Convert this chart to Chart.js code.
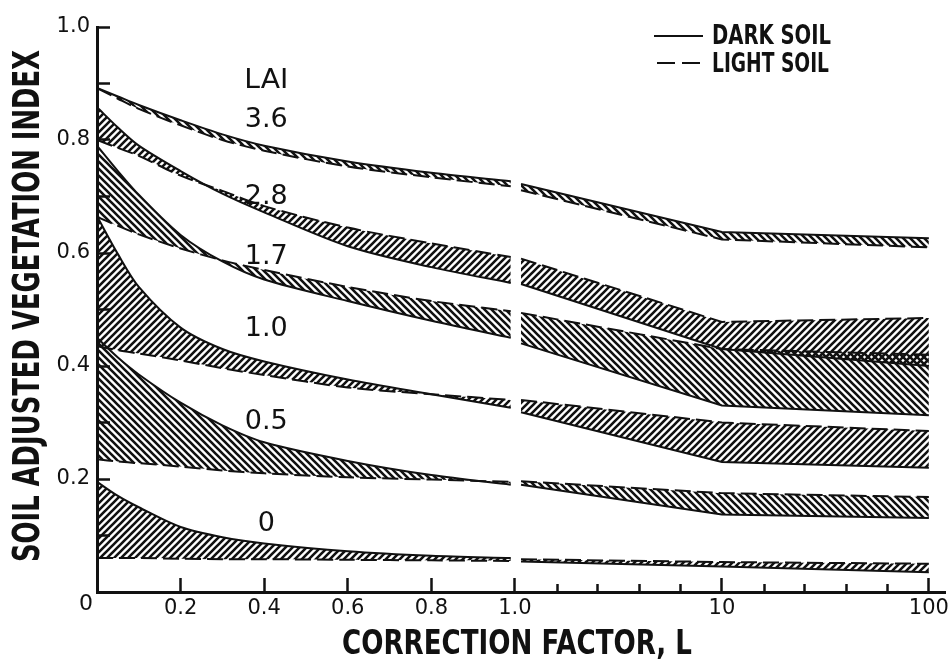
<!DOCTYPE html>
<html>
<head>
<meta charset="utf-8">
<script src="https://cdn.jsdelivr.net/npm/chart.js@4.4.0/dist/chart.umd.min.js"></script>
<style>
    html, body { margin: 0; padding: 0; background: #fff; }
    #wrap { width: 949px; height: 661px; }
</style>
</head>
<body>
<div id="wrap"><canvas id="savi"></canvas></div>
<script>
/* =========================================================
   1. DATA
========================================================= */

// correction factor L at which the curves were read (break between 0.99 and 1.07)
const L_POINTS = [0, 0.05, 0.1, 0.2, 0.3, 0.4, 0.6, 0.8, 0.99, 1.07, 10, 100];
const BREAK_AT = 9;

const LAI_NAMES = ['3.6', '2.8', '1.7', '1.0', '0.5', '0'];

const dark36  = [0.892, 0.877, 0.862, 0.835, 0.810, 0.790, 0.762, 0.742, 0.727, 0.722, 0.637, 0.626];
const light36 = [0.892, 0.873, 0.855, 0.826, 0.800, 0.781, 0.753, 0.734, 0.718, 0.711, 0.624, 0.610];
const dark28  = [0.858, 0.822, 0.790, 0.745, 0.705, 0.672, 0.612, 0.575, 0.547, 0.545, 0.430, 0.400];
const light28 = [0.800, 0.786, 0.772, 0.737, 0.710, 0.683, 0.645, 0.617, 0.593, 0.590, 0.478, 0.485];
const dark17  = [0.790, 0.745, 0.703, 0.632, 0.585, 0.553, 0.515, 0.480, 0.450, 0.440, 0.330, 0.313];
const light17 = [0.664, 0.648, 0.633, 0.608, 0.587, 0.570, 0.540, 0.515, 0.497, 0.494, 0.430, 0.420];
const dark10  = [0.665, 0.598, 0.540, 0.468, 0.430, 0.408, 0.376, 0.350, 0.326, 0.318, 0.230, 0.220];
const light10 = [0.435, 0.428, 0.422, 0.410, 0.396, 0.384, 0.362, 0.350, 0.340, 0.340, 0.300, 0.285];
const dark05  = [0.450, 0.415, 0.385, 0.335, 0.295, 0.265, 0.232, 0.207, 0.190, 0.190, 0.137, 0.131];
const light05 = [0.235, 0.231, 0.228, 0.222, 0.215, 0.210, 0.203, 0.199, 0.195, 0.196, 0.175, 0.168];
const dark00  = [0.195, 0.170, 0.150, 0.115, 0.097, 0.086, 0.072, 0.064, 0.060, 0.054, 0.045, 0.035];
const light00 = [0.060, 0.060, 0.060, 0.059, 0.058, 0.058, 0.057, 0.056, 0.055, 0.058, 0.053, 0.050];

const DARK = [dark36, dark28, dark17, dark10, dark05, dark00];
const LIGHT = [light36, light28, light17, light10, light05, light00];
const HATCH_DIR = ['\\', '/', '\\', '/', '\\', '/'];

// labels written on the plot
const LAI_LABEL_L = 0.405;
const LAI_HEAD_Y = 0.905;
const LAI_LABEL_Y = [0.835, 0.699, 0.593, 0.465, 0.301, 0.120];

// axes
const X_MAJOR = [0.2, 0.4, 0.6, 0.8, 1, 10, 100];
const X_MAJOR_LABELS = ['0.2', '0.4', '0.6', '0.8', '1.0', '10', '100'];
const X_MINOR = [1.6, 2.5, 4, 6.3, 16, 25, 40, 63];

const Y_TITLE = 'SOIL ADJUSTED VEGETATION INDEX';
const X_TITLE = 'CORRECTION FACTOR, L';
const LEGEND = ['DARK SOIL', 'LIGHT SOIL'];

/* =========================================================
   2. SPLIT AXIS (linear 0..1, then log 1..100)
========================================================= */

const INK = '#111';
const FONT = '"DejaVu Sans", sans-serif';
const LOG_DECADE = 0.4952;     // one decade, in units of the linear part
const X_MAX = 2.029;

function toAxis(L) {
    return L <= 1 ? L : 1 + LOG_DECADE * Math.log10(L);
}

/* =========================================================
   3. HATCHING
========================================================= */

function makeHatch(dir) {
    const s = 7;
    const c = document.createElement('canvas');
    c.width = s;
    c.height = s;
    const g = c.getContext('2d');
    g.strokeStyle = INK;
    g.lineWidth = 2.6;
    g.beginPath();
    if (dir === '/') {
        g.moveTo(-1, s + 1); g.lineTo(s + 1, -1);
        g.moveTo(-2, 2); g.lineTo(2, -2);
        g.moveTo(s - 2, s + 2); g.lineTo(s + 2, s - 2);
    } else {
        g.moveTo(-1, -1); g.lineTo(s + 1, s + 1);
        g.moveTo(-2, s - 2); g.lineTo(2, s + 2);
        g.moveTo(s - 2, -2); g.lineTo(s + 2, 2);
    }
    g.stroke();
    return g.createPattern(c, 'repeat');
}

/* =========================================================
   4. DATASETS
========================================================= */

function toPoints(values, from, to) {
    const pts = [];
    for (let i = from; i < to; i++) {
        pts.push({ x: toAxis(L_POINTS[i]), y: values[i] });
    }
    return pts;
}

function buildDatasets() {
    const sets = [];
    // left half smooth, right half straight pieces
    const halves = [[0, BREAK_AT, 0.3], [BREAK_AT, L_POINTS.length, 0]];

    LAI_NAMES.forEach((name, i) => {
        const pattern = makeHatch(HATCH_DIR[i]);
        halves.forEach(([from, to, tension]) => {
            sets.push({
                label: 'LAI ' + name + ' dark soil',
                data: toPoints(DARK[i], from, to),
                borderColor: INK,
                borderWidth: 2,
                pointRadius: 0,
                tension: tension,
                fill: '+1',
                backgroundColor: pattern
            });
            sets.push({
                label: 'LAI ' + name + ' light soil',
                data: toPoints(LIGHT[i], from, to),
                borderColor: INK,
                borderWidth: 2,
                borderDash: [16, 6],
                pointRadius: 0,
                tension: tension,
                fill: false
            });
        });
    });
    return sets;
}

/* =========================================================
   5. TEXT ON THE FIGURE
========================================================= */

// draws text squeezed sideways so that it spans `width` pixels
function drawFitted(ctx, text, x, y, font, width, rot, align) {
    ctx.save();
    ctx.font = font;
    const squeeze = width ? width / ctx.measureText(text).width : 1;
    ctx.translate(x, y);
    if (rot) ctx.rotate(rot);
    ctx.scale(squeeze, 1);
    ctx.textAlign = align || 'center';
    ctx.textBaseline = 'middle';
    ctx.fillText(text, 0, 0);
    ctx.restore();
}

const figureText = {
    id: 'figureText',
    afterDraw(chart) {
        const { ctx } = chart;
        const xs = chart.scales.x;
        const ys = chart.scales.y;

        ctx.save();
        ctx.fillStyle = INK;
        ctx.strokeStyle = INK;

        // axis titles
        drawFitted(ctx, Y_TITLE, 29, 306, 'bold 38px ' + FONT, 512, -Math.PI / 2);
        drawFitted(ctx, X_TITLE, 517, 645, 'bold 34px ' + FONT, 350);

        // shared origin label
        drawFitted(ctx, '0', 86, 604, '22px ' + FONT);

        // LAI labels
        const lx = xs.getPixelForValue(toAxis(LAI_LABEL_L));
        drawFitted(ctx, 'LAI', lx, ys.getPixelForValue(LAI_HEAD_Y), '27px ' + FONT, 44);
        LAI_NAMES.forEach((name, i) => {
            drawFitted(ctx, name, lx, ys.getPixelForValue(LAI_LABEL_Y[i]), '27px ' + FONT);
        });

        // legend
        ctx.lineWidth = 2;
        ctx.beginPath();
        ctx.moveTo(654, 36);
        ctx.lineTo(703, 36);
        ctx.stroke();
        ctx.setLineDash([18, 7]);
        ctx.beginPath();
        ctx.moveTo(657, 63);
        ctx.lineTo(703, 63);
        ctx.stroke();
        ctx.setLineDash([]);
        drawFitted(ctx, LEGEND[0], 712, 37, 'bold 27px ' + FONT, 119, 0, 'left');
        drawFitted(ctx, LEGEND[1], 712, 65, 'bold 27px ' + FONT, 117, 0, 'left');

        ctx.restore();
    }
};

/* =========================================================
   6. CHART
========================================================= */

Chart.defaults.font.family = FONT;
Chart.defaults.color = INK;

new Chart(document.getElementById('savi'), {
    type: 'line',
    data: { datasets: buildDatasets() },
    options: {
        responsive: true,
        maintainAspectRatio: false,
        animation: false,
        events: [],
        layout: { padding: { left: 0, right: 4, top: 27, bottom: 0 } },
        plugins: {
            legend: { display: false },
            tooltip: { enabled: false }
        },
        scales: {
            x: {
                type: 'linear',
                position: 'bottom',
                min: 0,
                max: X_MAX,
                afterBuildTicks: s => { s.ticks = X_MAJOR.map(v => ({ value: toAxis(v) })); },
                afterFit: s => {
                    s.height = 69;
                    s.paddingLeft = 0;
                    s.paddingRight = 0;
                },
                ticks: {
                    autoSkip: false,
                    maxRotation: 0,
                    padding: 18,
                    font: { size: 21 },
                    color: INK,
                    callback: (v, i) => X_MAJOR_LABELS[i]
                },
                grid: { drawOnChartArea: false, tickLength: -14, tickWidth: 2.5, tickColor: INK },
                border: { width: 3, color: INK }
            },
            xMinor: {
                type: 'linear',
                position: { y: 0 },
                min: 0,
                max: X_MAX,
                afterBuildTicks: s => { s.ticks = X_MINOR.map(v => ({ value: toAxis(v) })); },
                afterFit: s => {
                    s.paddingLeft = 0;
                    s.paddingRight = 0;
                },
                ticks: { display: false },
                grid: { drawOnChartArea: false, tickLength: -8, tickWidth: 2.5, tickColor: INK },
                border: { display: false }
            },
            y: {
                type: 'linear',
                min: 0,
                max: 1,
                afterFit: s => {
                    s.width = 97;
                    s.paddingTop = 0;
                    s.paddingBottom = 0;
                },
                ticks: {
                    stepSize: 0.1,
                    autoSkip: false,
                    padding: 20,
                    font: { size: 21 },
                    color: INK,
                    callback: v => {
                        const k = Math.round(v * 10);
                        return (k > 0 && k % 2 === 0) ? (k / 10).toFixed(1) : '';
                    }
                },
                grid: { drawOnChartArea: false, tickLength: -13, tickWidth: 2.5, tickColor: INK },
                border: { width: 3, color: INK }
            }
        }
    },
    plugins: [figureText]
});
</script>
</body>
</html>
